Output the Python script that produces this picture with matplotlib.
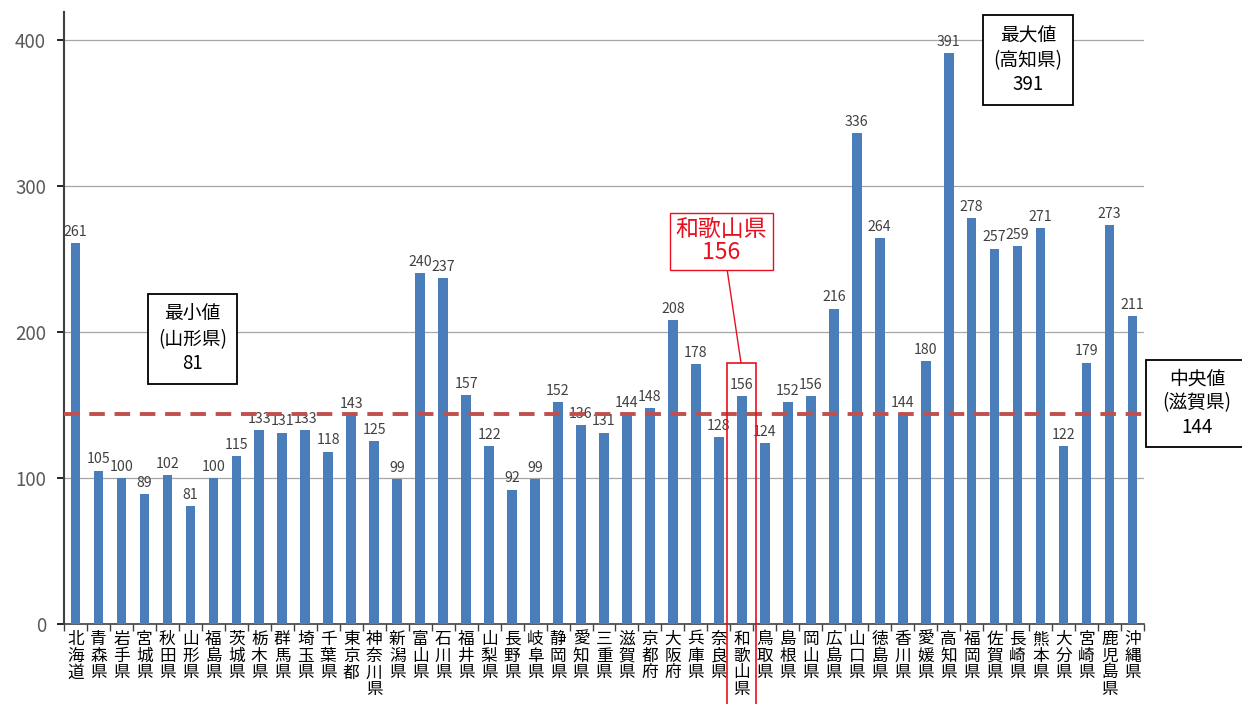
import numpy as np
import matplotlib.pyplot as plt
from matplotlib.patches import Rectangle

plt.rcParams['font.family'] = ['Noto Sans CJK JP', 'DejaVu Sans']

# data
prefectures = ["北海道", "青森県", "岩手県", "宮城県", "秋田県", "山形県", "福島県",
               "茨城県", "栃木県", "群馬県", "埼玉県", "千葉県", "東京都", "神奈川県",
               "新潟県", "富山県", "石川県", "福井県", "山梨県", "長野県", "岐阜県",
               "静岡県", "愛知県", "三重県", "滋賀県", "京都府", "大阪府", "兵庫県",
               "奈良県", "和歌山県", "鳥取県", "島根県", "岡山県", "広島県", "山口県",
               "徳島県", "香川県", "愛媛県", "高知県", "福岡県", "佐賀県", "長崎県",
               "熊本県", "大分県", "宮崎県", "鹿児島県", "沖縄県"]
values = [261, 105, 100, 89, 102, 81, 100, 115, 133, 131, 133, 118, 143, 125,
          99, 240, 237, 157, 122, 92, 99, 152, 136, 131, 144, 148, 208, 178,
          128, 156, 124, 152, 156, 216, 336, 264, 144, 180, 391, 278, 257, 259,
          271, 122, 179, 273, 211]
median_value = 144
highlight = "和歌山県"

BAR = "#4a7ebb"
RED = "#e8101e"

fig = plt.figure(figsize=(12.42, 7.04), dpi=100)
ax = fig.add_axes([64 / 1242, 80 / 704, 1080 / 1242, 612 / 704])

x = np.arange(len(values))
ax.bar(x, values, width=0.42, color=BAR, zorder=3)

for xi, v in zip(x, values):
    ax.annotate(str(v), (xi, v), xytext=(0, 3), textcoords="offset points",
                ha="center", va="bottom", fontsize=10.2, color="#404040", zorder=4)

# median line
ax.axhline(median_value, color="#c0504d", linestyle=(0, (4, 2.5)), linewidth=2.8, zorder=5)

ax.set_xlim(-0.5, len(values) - 0.5)
ax.set_ylim(0, 419)
ax.set_yticks([0, 100, 200, 300, 400])
ax.yaxis.grid(True, color="#a6a6a6", linewidth=0.9, zorder=0)
ax.tick_params(axis="y", labelsize=13.5, labelcolor="#595959", length=5, width=1.2, pad=8)

ax.set_xticks(x)
ax.set_xticklabels(["\n".join(p) for p in prefectures], fontsize=12,
                   linespacing=0.98, color="#000000")
ax.set_xticks(np.arange(-0.5, len(values)), minor=True)
ax.tick_params(axis="x", which="major", length=0, pad=5)
ax.tick_params(axis="x", which="minor", length=5, width=1.0, color="#404040")

for s in ["top", "right"]:
    ax.spines[s].set_visible(False)
ax.spines["left"].set_color("#404040")
ax.spines["left"].set_linewidth(1.5)
ax.spines["bottom"].set_color("#404040")
ax.spines["bottom"].set_linewidth(1.2)

# highlight frame around Wakayama
hi = prefectures.index(highlight)
ax.add_patch(Rectangle((hi - 0.66, -60), 1.28, 179 + 60, fill=False,
                       edgecolor=RED, linewidth=1.2, clip_on=False, zorder=6))
ax.plot([28.35, 28.96], [243.5, 179], color=RED, linewidth=1.0, zorder=6, clip_on=False)
ax.text(28.1, 262, f"{highlight}\n{values[hi]}", ha="center", va="center",
        fontsize=16.5, color=RED, linespacing=1.0, zorder=7,
        bbox=dict(boxstyle="square,pad=0.25", facecolor="white", edgecolor=RED, linewidth=1.0))

# min / max boxes
box = dict(boxstyle="square,pad=0.55", facecolor="white", edgecolor="#000000", linewidth=1.3)
imin = int(np.argmin(values))
imax = int(np.argmax(values))
ax.text(5.1, 195, f"最小値\n({prefectures[imin]})\n{values[imin]}", ha="center", va="center",
        fontsize=13.5, linespacing=1.2, color="#000000", bbox=box, zorder=7)
ax.text(41.45, 386, f"最大値\n({prefectures[imax]})\n{values[imax]}", ha="center", va="center",
        fontsize=13.5, linespacing=1.2, color="#000000", bbox=box, zorder=7)

# median box at right edge (clipped by figure)
fig.patches.append(Rectangle((1146 / 1242, (704 - 447) / 704), 0.2, 87 / 704,
                             transform=fig.transFigure, facecolor="white",
                             edgecolor="#000000", linewidth=1.3, figure=fig))
fig.text(1197 / 1242, (704 - 403) / 704, f"中央値\n(滋賀県)\n{median_value}",
         ha="center", va="center", fontsize=13.5, linespacing=1.2, color="#000000")

fig.savefig("out.png", dpi=100)
